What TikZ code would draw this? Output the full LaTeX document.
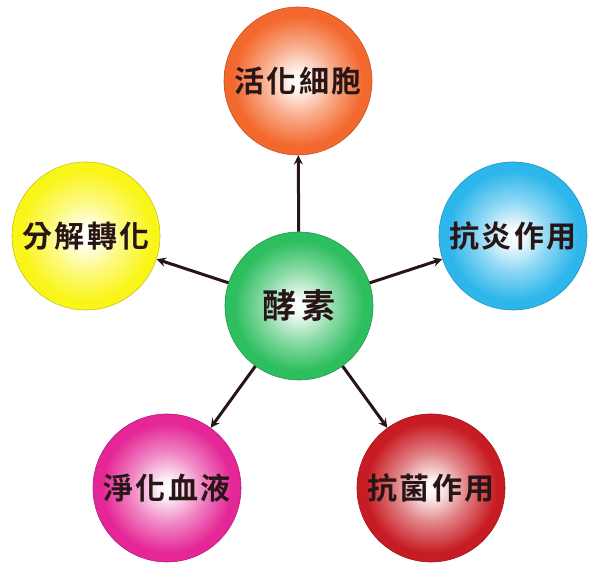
\documentclass[tikz,border=0pt]{standalone}
\usepackage{fontspec}
\usepackage{xcolor}
\usepackage{tikz}
\usetikzlibrary{arrows, positioning}
\newfontfamily\cjk{Noto Sans CJK TC}[BoldFont={Noto Sans CJK TC Bold}, LetterSpace=8]
\definecolor{enzymeorange}{RGB}{243, 104, 45}
\definecolor{enzymegreen}{RGB}{45, 190, 95}
\definecolor{enzymeblue}{RGB}{45, 182, 235}
\definecolor{enzymeyellow}{RGB}{250, 245, 25}
\definecolor{enzymepink}{RGB}{228, 38, 150}
\definecolor{enzymered}{RGB}{200, 28, 36}
\definecolor{enzymedark}{RGB}{40, 22, 22}
\colorlet{ballcolor}{enzymegreen}
\pgfdeclareradialshading[ballcolor]{glow}{\pgfpoint{0bp}{0bp}}{%
    color(0bp)=(white); color(3bp)=(ballcolor!6);
    color(12bp)=(ballcolor!55); color(22bp)=(ballcolor);
    color(25bp)=(ballcolor); color(50bp)=(ballcolor)}

\begin{document}
\begin{tikzpicture}[
    x=1pt, y=1pt,
    ball/.style={
        circle,
        minimum size=148pt,
        inner sep=0pt,
        draw=#1!80!black,
        line width=0.6pt,
        shading=glow,
        /utils/exec={\colorlet{ballcolor}{#1}},
        text=enzymedark,
        font=\cjk\bfseries\fontsize{30}{30}\selectfont
    },
    arrow/.style={
        ->,
        >=stealth,
        line width=3pt,
        enzymedark
    }
]

% Background
\fill[white] (0,0) rectangle (600,577);

% Nodes
\node[ball=enzymegreen, font=\cjk\bfseries\fontsize{34}{34}\selectfont] (enzyme) at (299,271) {酵\hspace{5pt}素};
\node[ball=enzymeorange] (cells) at (298,496) {活化細胞};
\node[ball=enzymeyellow] (decomp) at (86,341) {分解轉化};
\node[ball=enzymeblue] (inflam) at (513,341) {抗炎作用};
\node[ball=enzymepink] (blood) at (167,89) {淨化血液};
\node[ball=enzymered] (germ) at (431,89) {抗菌作用};

% Arrows
\foreach \target in {cells, decomp, inflam, blood, germ} {
    \draw[arrow] (enzyme) -- (\target);
}

\end{tikzpicture}
\end{document}
